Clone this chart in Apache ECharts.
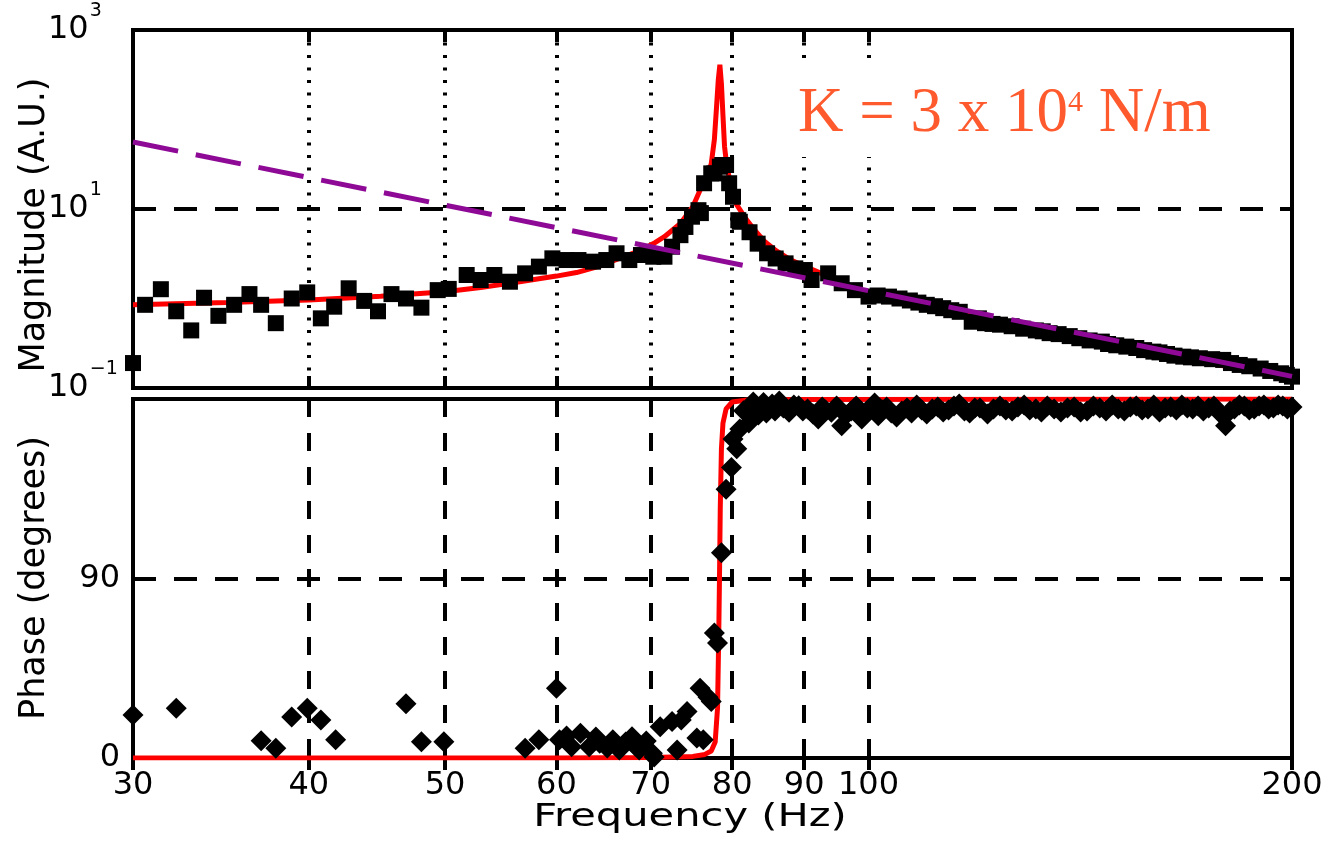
<!DOCTYPE html>
<html>
<head>
<meta charset="utf-8">
<title>Magnitude and phase vs frequency</title>
<script src="https://cdn.jsdelivr.net/npm/echarts@6/dist/echarts.min.js"></script>
<style>
html, body { margin: 0; padding: 0; background: #fff; }
#chart { width: 1331px; height: 842px; }
</style>
</head>
<body>
<div id="chart"></div>
<script>
// tick positions / labels
const freqTicks = [30, 40, 50, 60, 70, 80, 90, 100, 200];
const magTicks = [0.1, 10, 1000];
const magTickExp = ['\u22121', '1', '3'];
const phaseTicks = [0, 90];

// measured magnitude (squares)
const magFreq = [30.0, 30.6, 31.4, 32.2, 33.0, 33.7, 34.5, 35.4, 36.3, 37.0, 37.9, 38.9, 39.9, 40.8, 41.7, 42.7,
    43.8, 44.8, 45.8, 46.9, 48.1, 49.4, 50.3, 51.8, 53.0, 54.2, 55.6, 57.0, 58.3, 59.6, 61.0, 62.2, 63.7, 65.1,
    66.2, 67.6, 68.9, 70.3, 71.6, 72.5, 73.5, 74.1, 74.9, 75.7, 76.0, 76.4, 77.3, 77.7, 78.4, 78.7, 79.2, 79.6,
    80.1, 80.8, 81.0, 82.3, 83.4, 84.7, 85.9, 87.3, 88.7, 90.1, 91.1, 93.6, 95.7, 97.8, 100.0, 101.5, 103.4,
    105.2, 107.0, 108.5, 110.0, 111.5, 113.0, 114.5, 116.1, 118.4, 119.8, 121.0, 122.5, 124.0, 126.4, 128.8,
    131.5, 133.0, 134.5, 136.5, 139.0, 141.2, 143.6, 146.5, 148.0, 150.0, 152.5, 155.0, 157.0, 159.4, 161.0,
    163.0, 165.0, 167.4, 169.5, 172.0, 175.5, 178.7, 181.0, 183.6, 186.5, 190.0, 193.0, 196.5, 198.3, 200.0];
const magValue = [0.19, 0.85, 1.27, 0.72, 0.44, 1.02, 0.64, 0.85, 1.12, 0.85, 0.53, 1.00, 1.17, 0.60, 0.81, 1.30,
    0.94, 0.72, 1.12, 1.00, 0.79, 1.24, 1.28, 1.83, 1.61, 1.83, 1.54, 1.91, 2.27, 2.81, 2.69, 2.69, 2.58, 2.69,
    3.20, 2.69, 3.06, 2.93, 2.93, 3.79, 5.1, 6.3, 8.2, 9.7, 9.0, 19.4, 25, 25, 29.7, 31, 31, 19.4,
    13.7, 7.5, 7.2, 5.5, 4.1, 3.2, 2.8, 2.47, 2.17, 2.08, 1.61, 1.91, 1.48, 1.24, 1.05, 1.08, 1.05,
    1.00, 0.95, 0.90, 0.85, 0.82, 0.78, 0.74, 0.71, 0.55, 0.60, 0.53, 0.52, 0.51, 0.49, 0.46,
    0.44, 0.43, 0.41, 0.40, 0.38, 0.36, 0.34, 0.33, 0.31, 0.30, 0.29, 0.28, 0.265, 0.255, 0.25,
    0.24, 0.23, 0.224, 0.22, 0.215, 0.21, 0.206, 0.19, 0.181, 0.175, 0.165, 0.155, 0.146, 0.14, 0.134];

// fitted magnitude (red)
const fitMagFreq = [30, 35, 40, 45, 50, 53, 56.5, 60, 62, 64.4, 66.5, 68.7, 70.5, 71.6, 73.5, 75.0, 76.1, 76.8,
    77.3, 77.7, 78.0, 78.2, 78.4, 78.6, 78.8, 79.0, 79.3, 79.9, 80.5, 81.7, 83, 84.4, 86, 88, 90, 93, 96, 100,
    105, 110, 116, 124, 134, 146, 160, 172, 186, 200];
const fitMagValue = [0.85, 0.90, 0.96, 1.06, 1.19, 1.33, 1.54, 1.78, 1.95, 2.3, 2.8, 3.4, 4.2, 4.9, 6.9, 10.6, 17.8, 24,
    32, 60, 150, 280, 410, 250, 110, 50, 30, 17, 11.5, 8.0, 5.8, 4.3, 3.4, 2.7, 2.3, 1.85, 1.5, 1.15,
    0.95, 0.82, 0.69, 0.52, 0.41, 0.31, 0.245, 0.195, 0.16, 0.133];

// high-frequency asymptote (purple dashed)
const asymFreq = [30, 200];
const asymValue = [56, 0.135];

// measured phase (diamonds)
const phaseFreq = [30.0, 32.2, 37.0, 37.9, 38.9, 39.9, 40.8, 41.8, 46.9, 48.1, 49.9, 57.0, 58.3, 60.0, 60.3, 61.0,
    61.5, 62.4, 63.3, 64.0, 64.4, 65.2, 65.8, 66.5, 67.2, 67.9, 68.3, 68.7, 69.5, 70.2, 70.4, 71.1, 72.5, 73.1,
    73.6, 74.3, 75.5, 75.9, 76.3, 76.9, 77.3, 77.7, 78.1, 78.6, 79.2, 79.9, 80.1, 80.6, 81.0, 81.5,
    82.2, 82.8, 83.2, 83.5, 83.9, 84.2, 84.6, 85.0, 85.4, 85.8, 86.4, 87.0, 87.8, 88.5, 89.2, 89.8,
    90.5, 91.3, 92.1, 92.7, 93.2, 94.1, 94.9, 95.7, 96.4, 97.2, 98.0, 98.9, 99.6, 100.3, 101.0, 101.6,
    102.3, 103.0, 103.8, 104.7, 105.6, 106.5, 107.3, 108.2, 109.1, 110.0, 111.0, 112.0, 113.0, 114.0,
    115.0, 116.0, 117.0, 118.0, 119.0, 120.0, 121.5, 122.7, 124.0, 125.2, 126.5, 127.7, 129.0, 130.2,
    131.5, 132.7, 134.0, 135.5, 137.0, 138.5, 140.0, 141.5, 143.0, 144.5, 146.0, 147.5, 149.0, 150.5,
    152.0, 153.5, 155.0, 156.5, 158.0, 159.5, 161.0, 162.5, 164.0, 165.5, 167.0, 168.5, 170.0, 171.5,
    173.0, 174.5, 176.0, 177.7, 179.4, 180.7, 182.0, 183.5, 185.0, 186.5, 188.0, 189.5, 191.0, 192.5,
    194.0, 195.5, 197.0, 198.5, 200.0];
const phaseValue = [21.6, 25.0, 8.7, 4.9, 20.5, 25.0, 19.1, 9.1, 27.2, 8.2, 8.2, 4.9, 9.1, 35.0, 9.1, 11.0,
    5.7, 12.4, 5.7, 10.5, 7.4, 5.0, 9.1, 4.0, 8.0, 10.7, 6.0, 4.0, 8.5, 2.4, 0.5, 15.7, 18.3, 4.0,
    19.1, 23.3, 10.0, 35.0, 9.1, 30.5, 28.3, 62.7, 57.7, 102.9, 134.7, 145.7, 159.9, 155.0, 164.9, 174.1,
    168.0, 178.5, 174.5, 172.0, 176.0, 178.3, 173.0, 175.0, 177.5, 174.0, 179.0, 175.5, 173.3, 177.0, 176.6, 174.0,
    175.0, 172.5, 170.0, 176.0, 174.5, 173.3, 176.5, 166.6, 172.0, 174.0, 176.5, 170.0, 173.5, 175.5, 178.0, 171.6,
    174.5, 176.0, 173.0, 171.0, 174.0, 175.5, 173.0, 177.0, 174.5, 172.5, 175.0, 176.0, 173.5, 174.5,
    176.5, 177.5, 174.0, 173.0, 175.5, 175.5, 172.5, 175.0, 176.5, 174.5, 174.0, 176.0, 177.0, 174.5,
    175.0, 173.5, 176.5, 175.0, 173.5, 175.5, 176.0, 173.5, 174.0, 176.5, 175.5, 174.0, 177.0, 175.0,
    174.0, 176.0, 176.5, 174.5, 175.0, 177.0, 173.5, 175.5, 176.0, 174.5, 177.0, 175.5, 175.0, 176.5,
    174.0, 175.5, 176.5, 173.0, 166.6, 174.0, 175.0, 177.0, 176.5, 174.5, 175.0, 176.5, 177.0, 175.0,
    175.5, 177.0, 176.5, 175.0, 176.0];

// fitted phase (red)
const fitPhaseFreq = [30, 60, 70, 75, 76.5, 77.3, 77.8, 78.1, 78.25, 78.35, 78.45, 78.6, 78.8, 79.2, 80.0, 82, 90, 200];
const fitPhaseValue = [0, 0, 0.2, 0.8, 1.8, 3.5, 8, 25, 60, 90, 125, 155, 168, 175, 178.5, 179.5, 179.8, 180];

function zip(xs, ys) {
    return xs.map((x, i) => [x, ys[i]]);
}

const font = 'DejaVu Sans';
const chart = echarts.init(document.getElementById('chart'));

const gridTop = { left: 133, top: 30, width: 1159, height: 358 };
const gridBottom = { left: 133, top: 399, width: 1159, height: 359 };

const tickStyle = { color: '#000', width: 4 };

function frameAxis(grid, pos, extra) {
    return Object.assign({
        gridIndex: grid,
        position: pos,
        axisLine: { show: false },
        axisLabel: { show: false },
        axisTick: { show: true, inside: true, length: 12, lineStyle: tickStyle },
        splitLine: { show: false }
    }, extra);
}

const option = {
    animation: false,
    backgroundColor: '#fff',
    grid: [
        Object.assign({ show: true, borderColor: '#000', borderWidth: 4, backgroundColor: 'transparent', outerBoundsMode: 'none' }, gridTop),
        Object.assign({ show: true, borderColor: '#000', borderWidth: 4, backgroundColor: 'transparent', outerBoundsMode: 'none' }, gridBottom)
    ],
    xAxis: [
        frameAxis(0, 'bottom', {
            type: 'log', min: 30, max: 200,
            axisTick: { show: true, inside: true, length: 12, customValues: freqTicks, lineStyle: tickStyle },
            splitLine: { show: true, lineStyle: { color: '#000', width: 4, type: [3, 9.5] } }
        }),
        frameAxis(0, 'top', {
            type: 'log', min: 30, max: 200,
            axisTick: { show: true, inside: true, length: 12, customValues: freqTicks, lineStyle: tickStyle }
        }),
        frameAxis(1, 'bottom', {
            type: 'log', min: 30, max: 200,
            axisTick: { show: true, inside: true, length: 12, customValues: freqTicks, lineStyle: tickStyle },
            axisLabel: { show: true, customValues: freqTicks, margin: 12, color: '#000', fontFamily: font, fontSize: 32 },
            splitLine: { show: true, lineStyle: { color: '#000', width: 4, type: [18, 16] } }
        }),
        frameAxis(1, 'top', {
            type: 'log', min: 30, max: 200,
            axisTick: { show: true, inside: true, length: 12, customValues: freqTicks, lineStyle: tickStyle }
        })
    ],
    yAxis: [
        frameAxis(0, 'left', {
            type: 'log', min: 0.1, max: 1000,
            axisTick: { show: true, inside: true, length: 12, customValues: magTicks, lineStyle: tickStyle },
            axisLabel: {
                show: true, customValues: magTicks, align: 'left', margin: 85, color: '#000',
                formatter: (v) => {
                    const i = magTicks.findIndex(t => Math.abs(t - v) / t < 1e-6);
                    return '{b|10}{s|' + magTickExp[i] + '}';
                },
                rich: {
                    b: { fontFamily: font, fontSize: 32, lineHeight: 56, color: '#000' },
                    s: { fontFamily: font, fontSize: 19, lineHeight: 19, verticalAlign: 'top', color: '#000', padding: [0, 0, 0, 1] }
                }
            },
            splitLine: { show: true, lineStyle: { color: '#000', width: 4, type: [23, 18] } }
        }),
        frameAxis(0, 'right', {
            type: 'log', min: 0.1, max: 1000,
            axisTick: { show: true, inside: true, length: 12, customValues: magTicks, lineStyle: tickStyle }
        }),
        frameAxis(1, 'left', {
            type: 'value', min: 0, max: 180, interval: 90,
            axisLabel: { show: true, customValues: phaseTicks, margin: 13, color: '#000', fontFamily: font, fontSize: 32 },
            splitLine: { show: true, lineStyle: { color: '#000', width: 4, type: [23, 18] } }
        }),
        frameAxis(1, 'right', {
            type: 'value', min: 0, max: 180, interval: 90
        })
    ],
    series: [
        {
            name: 'fit magnitude', type: 'line', xAxisIndex: 0, yAxisIndex: 0,
            data: zip(fitMagFreq, fitMagValue), showSymbol: false, symbol: 'none', z: 2,
            lineStyle: { color: '#ff0000', width: 5 }
        },
        {
            name: 'magnitude', type: 'scatter', xAxisIndex: 0, yAxisIndex: 0,
            data: zip(magFreq, magValue), symbol: 'rect', symbolSize: 16, z: 3,
            itemStyle: { color: '#000', opacity: 1 }
        },
        {
            name: 'asymptote', type: 'line', xAxisIndex: 0, yAxisIndex: 0,
            data: zip(asymFreq, asymValue), showSymbol: false, symbol: 'none', z: 4,
            lineStyle: { color: '#8e0a96', width: 5, type: [46, 18] }
        },
        {
            name: 'fit phase', type: 'line', xAxisIndex: 2, yAxisIndex: 2,
            data: zip(fitPhaseFreq, fitPhaseValue), showSymbol: false, symbol: 'none', z: 2,
            lineStyle: { color: '#ff0000', width: 5 }
        },
        {
            name: 'phase', type: 'scatter', xAxisIndex: 2, yAxisIndex: 2,
            data: zip(phaseFreq, phaseValue), symbol: 'diamond', symbolSize: 21, z: 3,
            itemStyle: { color: '#000', opacity: 1 }
        }
    ],
    graphic: [
        {
            type: 'text', x: 35, y: 225, rotation: Math.PI / 2,
            style: { text: 'Magnitude (A.U.)', font: '35px "DejaVu Sans"', fill: '#000', align: 'center', verticalAlign: 'middle' }
        },
        {
            type: 'text', x: 35, y: 578, rotation: Math.PI / 2,
            style: { text: 'Phase (degrees)', font: '35px "DejaVu Sans"', fill: '#000', align: 'center', verticalAlign: 'middle' }
        },
        {
            type: 'text', x: 690, y: 818, scaleX: 1.3,
            style: { text: 'Frequency (Hz)', font: '32px "DejaVu Sans"', fill: '#000', align: 'center', verticalAlign: 'middle' }
        },
        {
            // white box behind the annotation, hides the grid lines there
            type: 'rect', z: 99,
            shape: { x: 790, y: 62, width: 442, height: 95 },
            style: { fill: '#fff' }
        },
        {
            type: 'text', x: 798, y: 88, z: 100,
            style: {
                text: '{k|K = 3 x 10}{s|4}{k| N/m}',
                align: 'left', verticalAlign: 'top',
                rich: {
                    k: { fontFamily: 'Liberation Serif', fontSize: 63, lineHeight: 52, fill: '#ff5a2d' },
                    s: { fontFamily: 'Liberation Serif', fontSize: 30, lineHeight: 30, verticalAlign: 'top', fill: '#ff5a2d' }
                }
            }
        }
    ]
};

chart.setOption(option);
window.addEventListener('resize', () => chart.resize());
</script>
</body>
</html>
